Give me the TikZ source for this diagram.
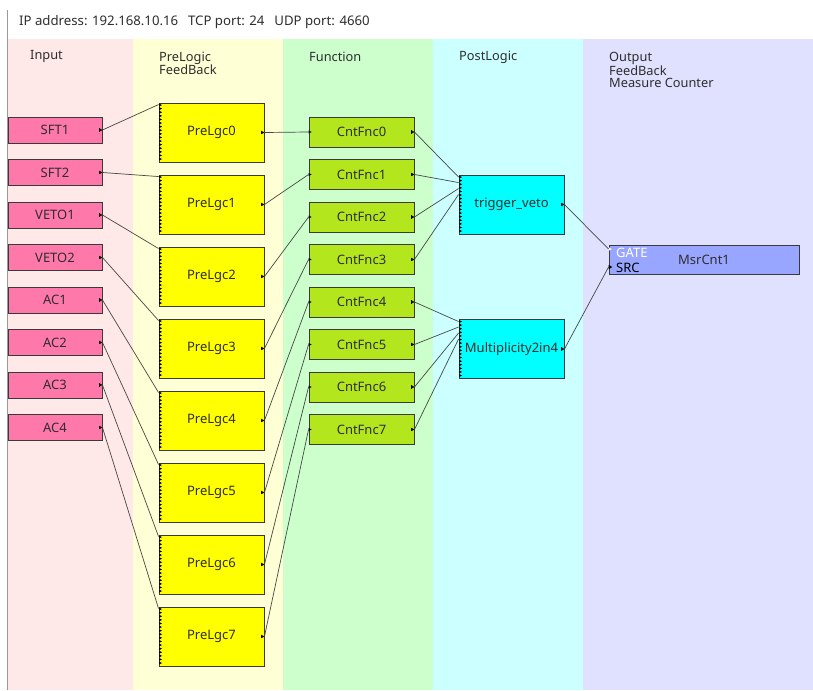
\documentclass[tikz,border=0pt]{standalone}
\usepackage{fontspec}
\setmainfont{Noto Sans}
\usetikzlibrary{calc}
\definecolor{bandIn}{HTML}{FFE8E8}
\definecolor{bandPre}{HTML}{FFFFD6}
\definecolor{bandFn}{HTML}{CCFFCC}
\definecolor{bandPost}{HTML}{CCFFFF}
\definecolor{bandOut}{HTML}{E0E0FF}
\definecolor{inFill}{HTML}{FF78AA}
\definecolor{preFill}{HTML}{FFFF00}
\definecolor{fnFill}{HTML}{B4E61E}
\definecolor{postFill}{HTML}{00FFFF}
\definecolor{outFill}{HTML}{99A6FF}
\definecolor{boxLine}{HTML}{3A3A3A}
\definecolor{txt}{HTML}{2E2E2E}
\begin{document}
\begin{tikzpicture}[x=1pt,y=-1pt,
  every node/.style={text=txt, font=\fontsize{13}{14}\selectfont},
  blk/.style={draw=boxLine, line width=0.9pt, inner sep=0pt, anchor=center},
  inbox/.style={blk, fill=inFill, minimum width=94pt, minimum height=26pt},
  prebox/.style={blk, fill=preFill, minimum width=105pt, minimum height=59pt},
  fnbox/.style={blk, fill=fnFill, minimum width=105pt, minimum height=30pt},
  postbox/.style={blk, fill=postFill, minimum width=105pt, minimum height=59pt},
  outbox/.style={blk, fill=outFill, minimum width=190pt, minimum height=29pt},
  bandlbl/.style={anchor=north west, inner sep=0pt, align=left, font=\fontsize{12.8}{12.5}\selectfont},
  conn/.style={draw=black!72, line width=0.7pt},
  inmark/.pic={\fill[black] (0,-1.5) -- (3,0) -- (0,1.5) -- cycle;},
  outmark/.pic={\fill[black] (-3,-1.6) -- (0,0) -- (-3,1.6) -- cycle; \draw[black, line width=0.5pt] (-3.2,-1.9) -- (-3.2,1.9);},
  inmarkw/.pic={\fill[white] (0,-1.8) -- (3.2,0) -- (0,1.8) -- cycle;},
  inmarkb/.pic={\fill[black] (0,-2.2) -- (3.8,0) -- (0,2.2) -- cycle;}
]
\useasboundingbox (0,0) rectangle (813,690);
\fill[white] (0,0) rectangle (813,690);
% bands
\fill[bandIn] (7,39) rectangle (133,690);
\fill[bandPre] (133,39) rectangle (283,690);
\fill[bandFn] (283,39) rectangle (433,690);
\fill[bandPost] (433,39) rectangle (583,690);
\fill[bandOut] (583,39) rectangle (813,690);
\draw[black!40, line width=0.8pt] (7,10) -- (7,690);
% header
\node[anchor=west, inner sep=0pt, font=\fontsize{13.2}{14}\selectfont] (hdr) at (19,22) {IP address: 192.168.10.16\hspace{0.75em}TCP port: 24\hspace{0.75em}UDP port: 4660};
% band labels
\node[bandlbl] (lblIn) at (30,50.5) {Input};
\node[bandlbl] (lblPre) at (159,51.5) {PreLogic\\FeedBack};
\node[bandlbl] (lblFn) at (309,51.5) {Function};
\node[bandlbl] (lblPost) at (459,50.5) {PostLogic};
\node[bandlbl] (lblOut) at (609,52) {Output\\FeedBack\\Measure Counter};
% input nodes
\foreach \n [count=\i from 0] in {SFT1,SFT2,VETO1,VETO2,AC1,AC2,AC3,AC4} {
  \node[inbox] (in\i) at (55,{130+42.5*\i}) {\n};
  \pic at (in\i.east) {outmark};
}
% prelogic nodes
\foreach \i in {0,...,7} {
  \node[prebox] (pl\i) at (211.5,{132.5+72*\i}) {PreLgc\i};
  \pic at (pl\i.east) {outmark};
  \foreach \k in {0,...,15} {
    \pic at ($(pl\i.north west)+(0.5,{2.5+3.6*\k})$) {inmark};
  }
}
% function nodes
\foreach \i in {0,...,7} {
  \node[fnbox] (cf\i) at (361.5,{132+42.5*\i}) {CntFnc\i};
  \pic at (cf\i.east) {outmark};
  \pic at (cf\i.west) {inmark};
}
% postlogic
\node[postbox] (tv) at (511.5,204.5) {trigger\_veto};
\node[postbox] (mul) at (511.5,349) {Multiplicity2in4};
\foreach \b in {tv,mul} {
  \pic at (\b.east) {outmark};
  \foreach \k in {0,...,15} {
    \pic at ($(\b.north west)+(0.5,{2.5+3.6*\k})$) {inmark};
  }
}
% output
\node[outbox] (msr) at (704,259.5) {MsrCnt1};
\node[anchor=west, inner sep=0pt, text=white] (gatelbl) at (616,252.5) {GATE};
\node[anchor=west, inner sep=0pt, text=black] (srclbl) at (616,267.5) {SRC};
\coordinate (gate) at ($(msr.north west)+(0,4.5)$);
\coordinate (src) at ($(msr.north west)+(0,22.5)$);
\pic at (gate) {inmarkw};
\pic at (src) {inmarkb};
% connectors input -> prelogic, prelogic -> function
\foreach \i in {0,...,7} {
  \draw[conn] (in\i.east) -- ($(pl\i.north west)+(0,2)$);
  \draw[conn] (pl\i.east) -- (cf\i.west);
}
% function -> postlogic
\foreach \i/\o in {0/2.5,1/8,2/14,3/20} {
  \draw[conn] (cf\i.east) -- ($(tv.north west)+(0,\o)$);
}
\foreach \i/\o in {4/2.5,5/8,6/14,7/20} {
  \draw[conn] (cf\i.east) -- ($(mul.north west)+(0,\o)$);
}
\draw[conn] (tv.east) -- (gate);
\draw[conn] (mul.east) -- (src);
\end{tikzpicture}
\end{document}
